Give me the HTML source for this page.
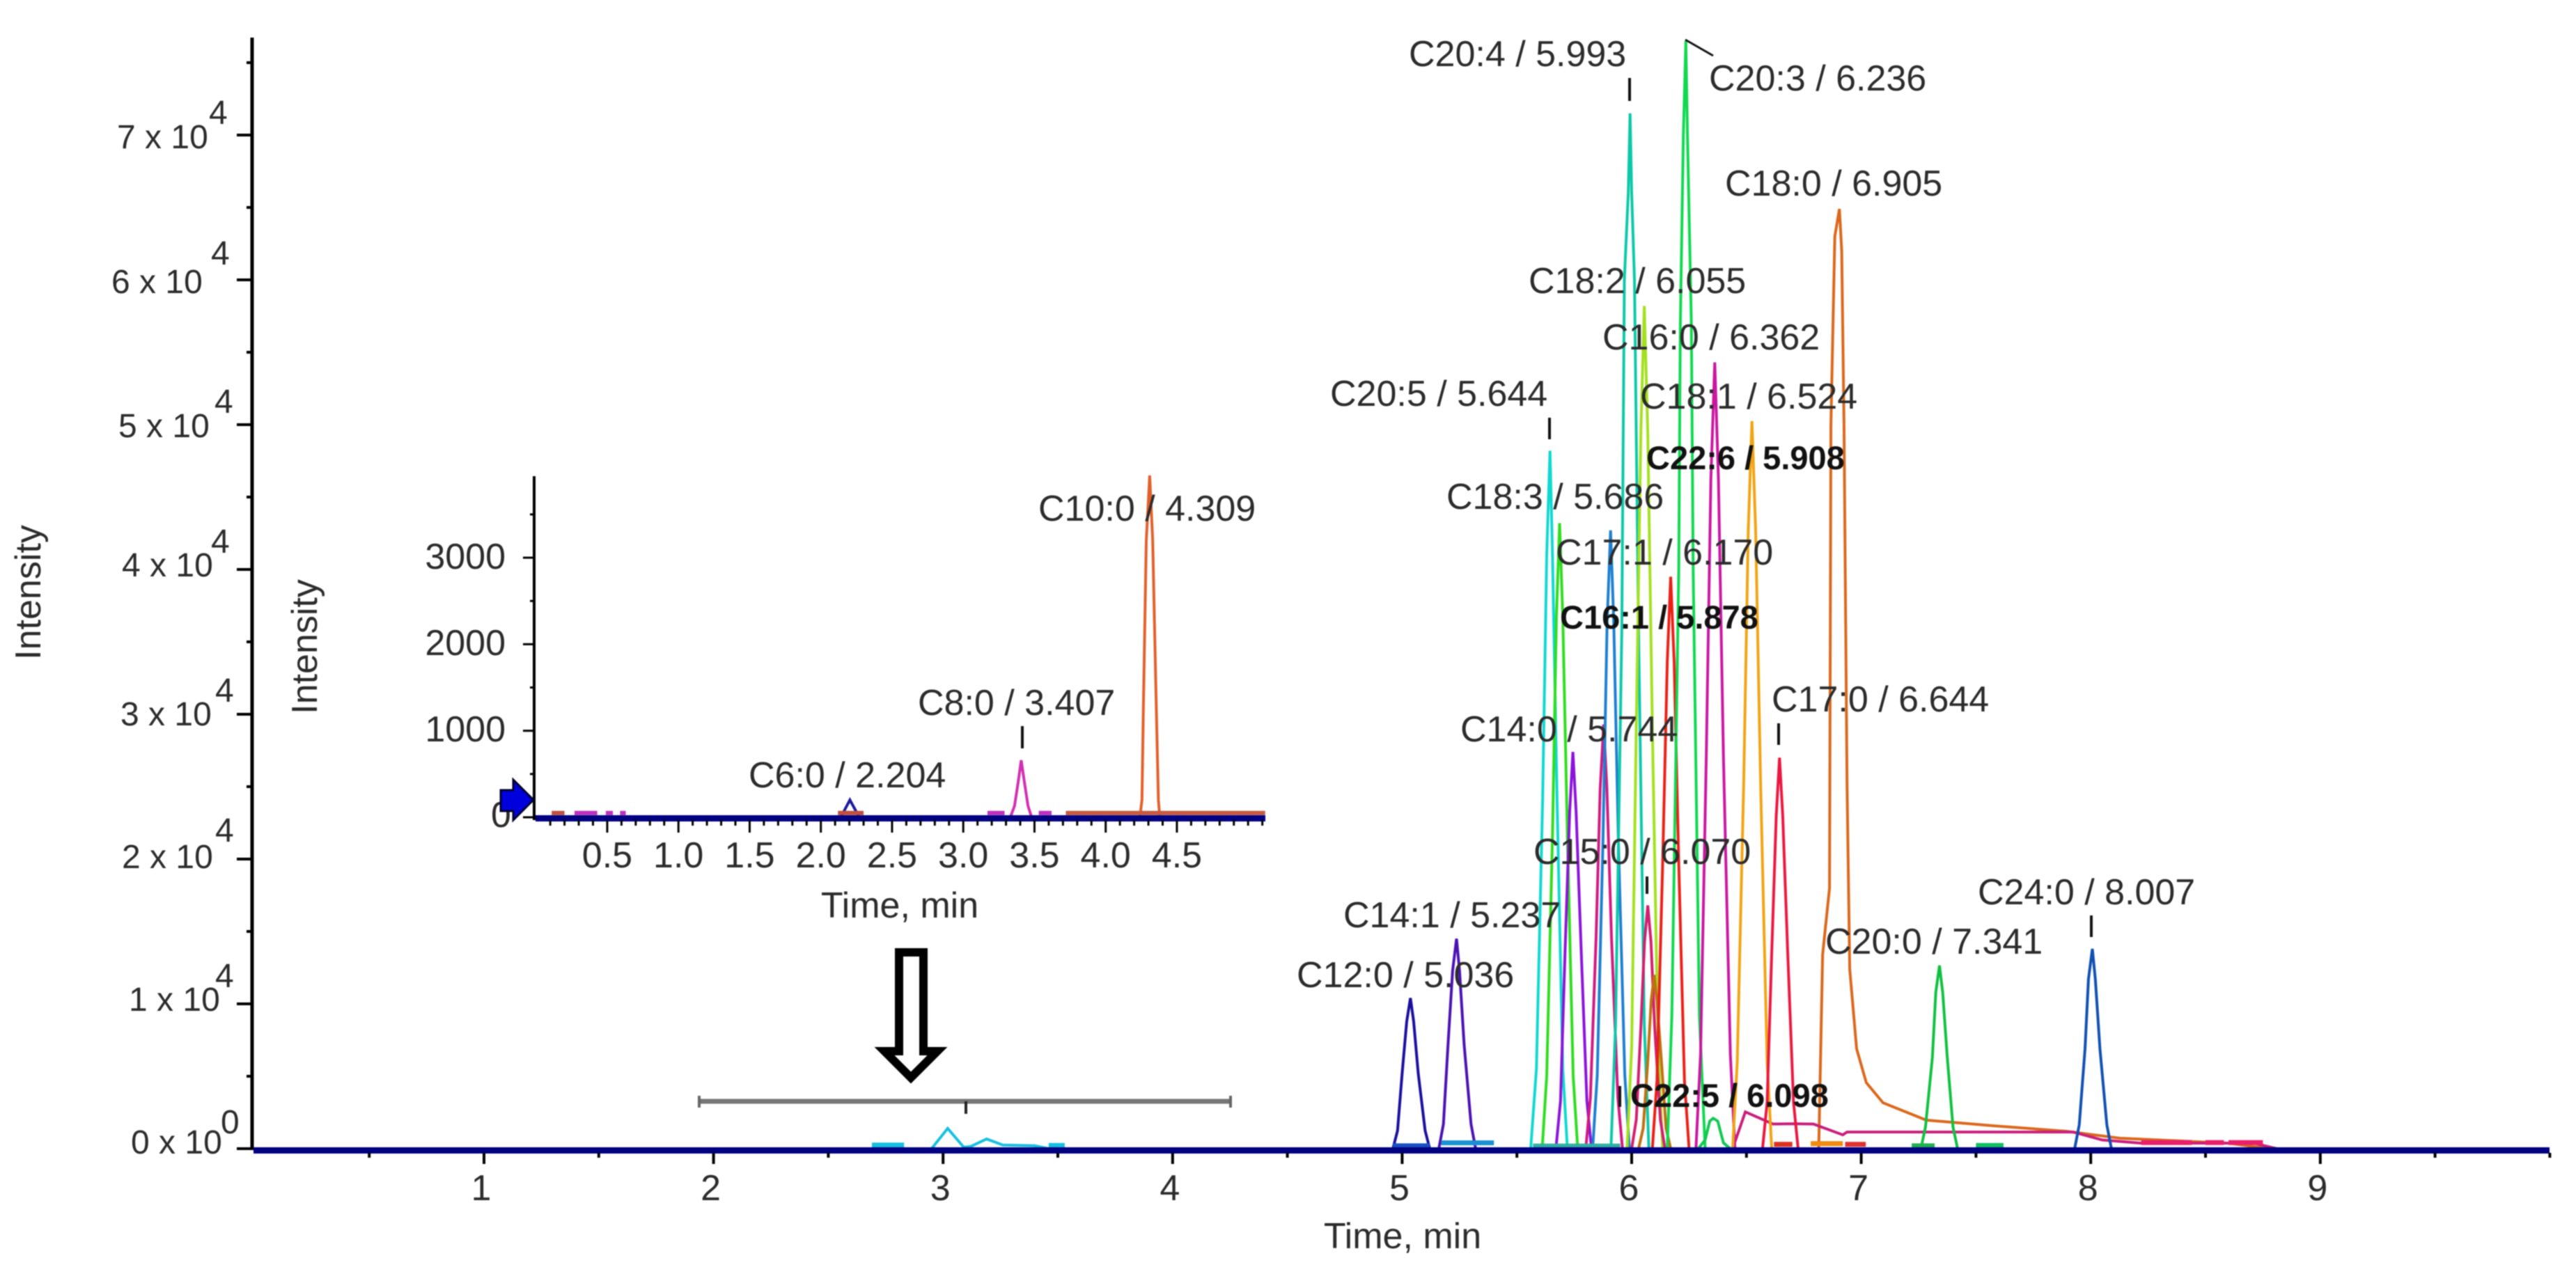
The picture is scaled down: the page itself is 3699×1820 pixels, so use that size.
<!DOCTYPE html>
<html lang="en">
<head>
<meta charset="utf-8">
<title>Fatty acid LC-MS chromatogram</title>
<style>
html,body{margin:0;padding:0;background:#fff;}
svg{display:block;filter:blur(0.7px);}
text{font-family:"Liberation Sans",sans-serif;font-size:52px;fill:#2b2b2b;}
.b{font-weight:bold;font-size:47px;fill:#111;}
.yl{font-size:48px;}
</style>
</head>
<body>
<svg id="chart" xmlns="http://www.w3.org/2000/svg" width="3699" height="1820" viewBox="0 0 3699 1820">
<rect width="3699" height="1820" fill="#ffffff"/>
<g id="mainTraces"></g>
<g id="insetTraces"></g>
<g id="axes"></g>

<g>
<text class="yl" x="168" y="213">7 x 10</text><text class="yl" x="300" y="178">4</text>
<text class="yl" x="160" y="421">6 x 10</text><text class="yl" x="303" y="380">4</text>
<text class="yl" x="170" y="628">5 x 10</text><text class="yl" x="308" y="593">4</text>
<text class="yl" x="175" y="828">4 x 10</text><text class="yl" x="303" y="794">4</text>
<text class="yl" x="173" y="1042">3 x 10</text><text class="yl" x="309" y="1008">4</text>
<text class="yl" x="175" y="1247">2 x 10</text><text class="yl" x="309" y="1209">4</text>
<text class="yl" x="185" y="1452">1 x 10</text><text class="yl" x="309" y="1418">4</text>
<text class="yl" x="188" y="1657">0 x 10</text><text class="yl" x="317" y="1628">0</text>
</g>

<text transform="translate(58 851) rotate(-90)" text-anchor="middle">Intensity</text>
<text x="2014" y="1793" text-anchor="middle">Time, min</text>

<g>
<text x="2023" y="95">C20:4 / 5.993</text>
<text x="2454" y="130">C20:3 / 6.236</text>
<text x="2477" y="281">C18:0 / 6.905</text>
<text x="2195" y="421">C18:2 / 6.055</text>
<text x="2301" y="502">C16:0 / 6.362</text>
<text x="2355" y="587">C18:1 / 6.524</text>
<text x="1910" y="583">C20:5 / 5.644</text>
<text class="b" x="2364" y="674">C22:6 / 5.908</text>
<text x="2077" y="731">C18:3 / 5.686</text>
<text x="2234" y="811">C17:1 / 6.170</text>
<text class="b" x="2240" y="903">C16:1 / 5.878</text>
<text x="2544" y="1022">C17:0 / 6.644</text>
<text x="2097" y="1065">C14:0 / 5.744</text>
<text x="2202" y="1241">C15:0 / 6.070</text>
<text x="1929" y="1332">C14:1 / 5.237</text>
<text x="2840" y="1299">C24:0 / 8.007</text>
<text x="2621" y="1370">C20:0 / 7.341</text>
<text x="1862" y="1418">C12:0 / 5.036</text>
<text class="b" x="2341" y="1590">C22:5 / 6.098</text>
<text x="1491" y="748">C10:0 / 4.309</text>
<text x="1318" y="1027">C8:0 / 3.407</text>
<text x="1075" y="1131">C6:0 / 2.204</text>
</g>

<g stroke="#111" stroke-width="4" fill="none">
<path d="M2340 112V145"/>
<path d="M2225 600V631"/>
<path d="M2420 57L2460 80" stroke-width="3"/>
<path d="M2554 1039V1070"/>
<path d="M2365 1259V1284"/>
<path d="M3003 1315V1346"/>
<path d="M2326 1560V1590"/>
<path d="M1468 1043V1075"/>
</g>

<g>
<text x="726" y="817" text-anchor="end">3000</text>
<text x="726" y="941" text-anchor="end">2000</text>
<text x="726" y="1065" text-anchor="end">1000</text>
<text x="705" y="1188">0</text>
</g>
<text transform="translate(455 929) rotate(-90)" text-anchor="middle">Intensity</text>
<text x="1292" y="1318" text-anchor="middle">Time, min</text>

<g>
<polygon points="719,1135 737,1135 737,1120 766,1149 737,1178 737,1165 719,1165" fill="#0000dd" stroke="#000030" stroke-width="3"/>
</g>
<g>
<polygon points="1291,1368 1326,1368 1326,1510 1346,1510 1308,1548 1270,1510 1291,1510" fill="#ffffff" stroke="#000000" stroke-width="12"/>
<path d="M1004 1582H1767" stroke="#777" stroke-width="7" fill="none"/>
<path d="M1004 1574V1591" stroke="#666" stroke-width="4" fill="none"/>
<path d="M1767 1574V1591" stroke="#666" stroke-width="4" fill="none"/>
<path d="M1387 1582V1600" stroke="#222" stroke-width="4" fill="none"/>
</g>
</svg>

<script>
// ---- axis tick values ----
const mainXMajor = [1,2,3,4,5,6,7,8,9];
const mainXMinor = [0.5,1.5,2.5,3.5,4.5,5.5,6.5,7.5,8.5,9.5,10];
const mainYMajor = [0,10000,20000,30000,40000,50000,60000,70000];
const mainYMinor = [5000,15000,25000,35000,45000,55000,65000,75000];
const insetXMajor = [0.5,1,1.5,2,2.5,3,3.5,4,4.5];
const insetXLabels = ["0.5","1.0","1.5","2.0","2.5","3.0","3.5","4.0","4.5"];
const insetXMinor = [0.1,0.2,0.3,0.4,0.6,0.7,0.8,0.9,1.1,1.2,1.3,1.4,1.6,1.7,1.8,1.9,2.1,2.2,2.3,2.4,2.6,2.7,2.8,2.9,3.1,3.2,3.3,3.4,3.6,3.7,3.8,3.9,4.1,4.2,4.3,4.4,4.6,4.7,4.8,4.9,5.0,5.1];
const insetYMajor = [0,1000,2000,3000];
const insetYMinor = [500,1500,2500,3500];

// ---- main panel series: retention time (min) and intensity ----
const c12Time = [4.96,4.98,5.00,5.02,5.036,5.05,5.07,5.10,5.12];
const c12Int  = [0,1250,5200,8800,10400,8800,5200,1250,0];
const c141Time = [5.16,5.18,5.20,5.22,5.237,5.25,5.27,5.30,5.32];
const c141Int  = [0,1700,7200,12300,14500,12300,7200,1700,0];
const c205Time = [5.56,5.585,5.612,5.63,5.644,5.655,5.675,5.70,5.72];
const c205Int  = [0,5500,24000,41000,48200,41000,24000,5500,0];
const c183Time = [5.61,5.63,5.655,5.672,5.686,5.70,5.72,5.745,5.765];
const c183Int  = [0,5000,21600,36700,43200,36700,21600,5000,0];
const c140Time = [5.67,5.69,5.71,5.73,5.744,5.758,5.78,5.805,5.825];
const c140Int  = [0,3300,13700,23300,27400,23300,13700,3300,0];
const c161Time = [5.80,5.82,5.845,5.863,5.878,5.892,5.912,5.94,5.96];
const c161Int  = [0,3500,14600,24900,29300,24900,14600,3500,0];
const c226Time = [5.83,5.85,5.875,5.893,5.908,5.922,5.942,5.97,5.99];
const c226Int  = [0,5100,21300,36300,42700,36300,21300,5100,0];
const c204Time = [5.91,5.93,5.957,5.968,5.985,5.993,6.000,6.012,6.03,6.055,6.075];
const c204Int  = [0,8600,35700,60000,66000,71500,66000,60000,35700,8600,0];
const c182Time = [5.98,6.00,6.02,6.04,6.055,6.07,6.09,6.115,6.135];
const c182Int  = [0,7000,29100,49500,58200,49500,29100,7000,0];
const c150Time = [6.00,6.02,6.04,6.056,6.07,6.084,6.10,6.125,6.145];
const c150Int  = [0,2000,8400,14300,16800,14300,8400,2000,0];
const c225Time = [6.03,6.05,6.07,6.085,6.098,6.11,6.13,6.15,6.17];
const c225Int  = [0,1400,6000,10200,12000,10200,6000,1400,0];
const c171Time = [6.09,6.11,6.135,6.155,6.17,6.185,6.205,6.23,6.25];
const c171Int  = [0,4700,19700,33600,39500,33600,19700,4700,0];
const c203Time = [6.155,6.175,6.205,6.212,6.225,6.236,6.243,6.26,6.268,6.295,6.32];
const c203Int  = [0,9200,40000,57000,70000,76500,70000,57000,40000,9200,0];
const c160Time = [6.28,6.30,6.325,6.345,6.362,6.378,6.40,6.43,6.45];
const c160Int  = [0,6500,27000,46200,54300,46200,27000,6500,0];
const c181Time = [6.44,6.46,6.488,6.508,6.524,6.54,6.562,6.59,6.61];
const c181Int  = [0,6000,25100,42700,50250,42700,25100,6000,0];
const c170Time = [6.57,6.59,6.61,6.63,6.644,6.658,6.68,6.705,6.725];
const c170Int  = [0,3200,13500,23000,27000,23000,13500,3200,0];
const c180Time = [6.815,6.832,6.862,6.868,6.885,6.905,6.915,6.925,6.938,6.95,6.98,7.022,7.095,7.283,7.575,7.893,8.127,8.6,8.78];
const c180Int  = [0,13400,18000,50000,63000,64900,62000,50000,25400,12400,6900,4560,3170,1970,1580,1200,720,380,0];
const c200Time = [7.26,7.28,7.31,7.325,7.341,7.355,7.375,7.40,7.42];
const c200Int  = [0,1500,6300,10800,12650,10800,6300,1500,0];
const c240Time = [7.93,7.95,7.975,7.99,8.007,8.02,8.04,8.07,8.09];
const c240Int  = [0,1650,6900,11700,13800,11700,6900,1650,0];
const tailTime = [6.44,6.495,6.616,6.704,6.792,6.92,6.938,7.923,8.05,8.22,8.71,8.81];
const tailInt  = [0,2540,1700,1720,1700,950,1150,1150,600,380,380,0];
const smallGreenTime = [6.29,6.32,6.34,6.355,6.375,6.40,6.43];
const smallGreenInt  = [0,600,1900,2100,1900,400,0];
const cyanTime = [2.95,3.02,3.09,3.12,3.19,3.26,3.40,3.46];
const cyanInt  = [0,1400,100,150,670,250,200,0];

// ---- baseline noise in main panel: start, end, level ----
const mainNoiseStart = [2.69,3.46,4.96,5.17,5.57,6.62,6.78,6.93,7.22,7.50,8.22,8.50,8.60];
const mainNoiseEnd   = [2.83,3.53,5.12,5.40,5.95,6.70,6.92,7.02,7.32,7.62,8.44,8.58,8.75];
const mainNoiseLevel = [250,220,200,400,180,300,350,300,200,220,420,420,420];

// ---- inset series ----
const c10Time = [4.24,4.255,4.265,4.285,4.309,4.33,4.355,4.37,4.38];
const c10Int  = [0,200,1300,3200,3950,3200,1300,200,0];
const c8Time = [3.33,3.36,3.385,3.407,3.43,3.455,3.48];
const c8Int  = [0,130,400,660,400,130,0];
const c6Time = [2.14,2.204,2.27];
const c6Int  = [0,200,0];
const insetNoiseStart = [0.11,0.27,0.49,0.59,3.17,3.53,3.72,2.12];
const insetNoiseEnd   = [0.20,0.43,0.54,0.63,3.29,3.62,5.12,2.30];
const insetNoiseLevel = [50,50,50,50,50,50,50,50];

// ---- scales ----
function mainX(t){ return 365.4 + t * 329.6; }
function mainY(v){ return 1650 - v * 0.0208; }
function insetX(t){ return 769.7 + t * 204.5; }
function insetY(v){ return 1174 - v * 0.1243; }

const NS = "http://www.w3.org/2000/svg";
function make(tag, parent){
  const el = document.createElementNS(NS, tag);
  parent.appendChild(el);
  return el;
}
function linePath(xs, ys, fx, fy){
  let d = "";
  for (let i = 0; i < xs.length; i++) {
    d += (i ? "L" : "M") + fx(xs[i]).toFixed(1) + " " + fy(ys[i]).toFixed(1);
  }
  return d;
}

const mainG = document.getElementById("mainTraces");
const insetG = document.getElementById("insetTraces");
const axesG = document.getElementById("axes");

const mainSeries = [
  ["c18-0", c180Time, c180Int, "#d9681c"],
  ["tail", tailTime, tailInt, "#c81e7c"],
  ["c12-0", c12Time, c12Int, "#1a0f9c"],
  ["c14-1", c141Time, c141Int, "#4a12b0"],
  ["c20-5", c205Time, c205Int, "#0fd8d0"],
  ["c18-3", c183Time, c183Int, "#30dc20"],
  ["c14-0", c140Time, c140Int, "#8a14d8"],
  ["c16-1", c161Time, c161Int, "#cf1a80"],
  ["c22-6", c226Time, c226Int, "#1e7fcf"],
  ["c20-4", c204Time, c204Int, "#0cc8a8"],
  ["c18-2", c182Time, c182Int, "#a4e020"],
  ["c15-0", c150Time, c150Int, "#d02070"],
  ["c22-5", c225Time, c225Int, "#c07010"],
  ["c17-1", c171Time, c171Int, "#e82018"],
  ["c20-3", c203Time, c203Int, "#10d850"],
  ["c16-0", c160Time, c160Int, "#c818a0"],
  ["c18-1", c181Time, c181Int, "#f0a414"],
  ["c17-0", c170Time, c170Int, "#e81840"],
  ["c20-0", c200Time, c200Int, "#10c040"],
  ["c24-0", c240Time, c240Int, "#1050b0"],
  ["small-green", smallGreenTime, smallGreenInt, "#10c850"],
  ["cyan-hump", cyanTime, cyanInt, "#18c0e0"]
];
mainSeries.forEach(function (s) {
  const p = make("path", mainG);
  
  
  p.setAttribute("d", linePath(s[1], s[2], mainX, mainY));
  p.setAttribute("fill", "none");
  p.setAttribute("stroke", s[3]);
  p.setAttribute("stroke-width", "4");
});

const mainNoiseColors = ["#18c0e0","#18c0e0","#1a50c0","#1a90d0","#30b0a0","#e03020","#f08a10","#e03030","#20b050","#10c060","#e8206a","#e8206a","#e8206a"];
mainNoiseStart.forEach(function (t0, i) {
  const p = make("line", mainG);
  
  
  p.setAttribute("x1", mainX(t0));
  p.setAttribute("x2", mainX(mainNoiseEnd[i]));
  p.setAttribute("y1", mainY(mainNoiseLevel[i]));
  p.setAttribute("y2", mainY(mainNoiseLevel[i]));
  p.setAttribute("stroke", mainNoiseColors[i]);
  p.setAttribute("stroke-width", "7");
});

const insetSeries = [
  ["c10-0", c10Time, c10Int, "#e0602c"],
  ["c8-0", c8Time, c8Int, "#d030b0"],
  ["c6-0", c6Time, c6Int, "#1a1a9c"]
];
insetSeries.forEach(function (s) {
  const p = make("path", insetG);
  
  
  p.setAttribute("d", linePath(s[1], s[2], insetX, insetY));
  p.setAttribute("fill", "none");
  p.setAttribute("stroke", s[3]);
  p.setAttribute("stroke-width", "4");
});
const insetNoiseColors = ["#c05040","#c030c0","#c030c0","#c030c0","#c030c0","#c030c0","#c85a40","#c05040"];
insetNoiseStart.forEach(function (t0, i) {
  const p = make("line", insetG);
  
  
  p.setAttribute("x1", insetX(t0));
  p.setAttribute("x2", insetX(insetNoiseEnd[i]));
  p.setAttribute("y1", insetY(insetNoiseLevel[i]));
  p.setAttribute("y2", insetY(insetNoiseLevel[i]));
  p.setAttribute("stroke", insetNoiseColors[i]);
  p.setAttribute("stroke-width", "6");
});

function tick(x1, y1, x2, y2, w, color){
  const l = make("line", axesG);
  
  
  l.setAttribute("x1", x1); l.setAttribute("y1", y1);
  l.setAttribute("x2", x2); l.setAttribute("y2", y2);
  l.setAttribute("stroke", color || "#000");
  l.setAttribute("stroke-width", w);
}

// main axes
const mainYAxis = make("line", axesG);


mainYAxis.setAttribute("x1", 362); mainYAxis.setAttribute("x2", 362);
mainYAxis.setAttribute("y1", 54); mainYAxis.setAttribute("y2", 1652);
mainYAxis.setAttribute("stroke", "#000"); mainYAxis.setAttribute("stroke-width", 5);
mainYMajor.forEach(function (v) { tick(340, mainY(v), 362, mainY(v), 4); });
mainYMinor.forEach(function (v) { tick(354, mainY(v), 362, mainY(v), 4); });

const mainBase = make("rect", axesG);


mainBase.setAttribute("x", 364); mainBase.setAttribute("y", 1648);
mainBase.setAttribute("width", 3297); mainBase.setAttribute("height", 9);
mainBase.setAttribute("fill", "#000080");
mainXMajor.forEach(function (t) {
  tick(mainX(t), 1656, mainX(t), 1672, 4);
  const lab = make("text", axesG);
  
  
  lab.setAttribute("x", mainX(t) - 4);
  lab.setAttribute("y", 1724);
  lab.setAttribute("text-anchor", "middle");
  lab.textContent = String(t);
});
mainXMinor.forEach(function (t) { tick(mainX(t), 1656, mainX(t), 1663, 4); });

// inset axes
const insetYAxis = make("line", axesG);


insetYAxis.setAttribute("x1", 767); insetYAxis.setAttribute("x2", 767);
insetYAxis.setAttribute("y1", 684); insetYAxis.setAttribute("y2", 1178);
insetYAxis.setAttribute("stroke", "#000"); insetYAxis.setAttribute("stroke-width", 4);
insetYMajor.forEach(function (v) { tick(751, insetY(v), 767, insetY(v), 3); });
insetYMinor.forEach(function (v) { tick(761, insetY(v), 767, insetY(v), 3); });

const insetBase = make("rect", axesG);


insetBase.setAttribute("x", 769); insetBase.setAttribute("y", 1171);
insetBase.setAttribute("width", 1048); insetBase.setAttribute("height", 9);
insetBase.setAttribute("fill", "#000080");
insetXMajor.forEach(function (t, i) {
  tick(insetX(t), 1178, insetX(t), 1196, 3);
  const lab = make("text", axesG);
  
  
  lab.setAttribute("x", insetX(t));
  lab.setAttribute("y", 1246);
  lab.setAttribute("text-anchor", "middle");
  lab.textContent = insetXLabels[i];
});
insetXMinor.forEach(function (t) { tick(insetX(t), 1178, insetX(t), 1186, 3); });
</script>
</body>
</html>
